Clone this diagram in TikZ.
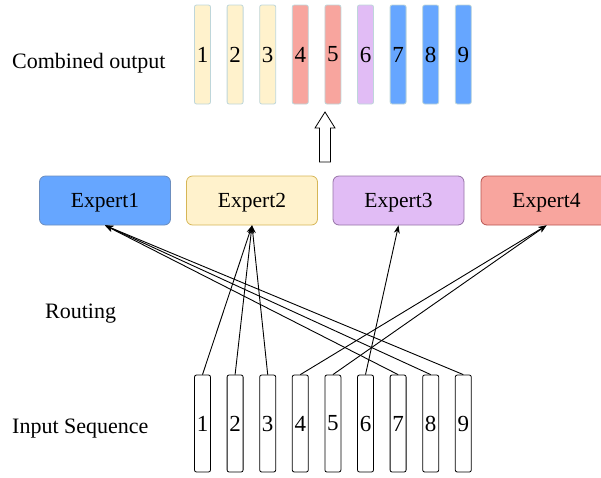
\documentclass[tikz,border=0pt]{standalone}
\usepackage{fontspec}
\setmainfont{Liberation Serif}
\usetikzlibrary{arrows.meta}

\definecolor{ExpBlue}{RGB}{102,166,255}
\definecolor{ExpBlueLine}{RGB}{108,142,191}
\definecolor{ExpYellow}{RGB}{255,242,204}
\definecolor{ExpYellowLine}{RGB}{214,182,86}
\definecolor{ExpPurple}{RGB}{225,188,245}
\definecolor{ExpPurpleLine}{RGB}{150,115,166}
\definecolor{ExpRed}{RGB}{248,165,158}
\definecolor{ExpRedLine}{RGB}{184,84,80}
\definecolor{TokLine}{RGB}{190,214,218}

\tikzset{
  tok/.style={draw, rounded corners=2pt, minimum width=16pt, inner sep=0pt,
    line width=0.8pt, font=\fontsize{23}{23}\selectfont},
  expert/.style={draw, rounded corners=6pt, minimum width=131pt,
    minimum height=49pt, line width=0.8pt, text depth=0pt,
    font=\fontsize{21.5}{21.5}\selectfont},
  lbl/.style={anchor=base west, inner sep=0pt, font=\fontsize{22}{22}\selectfont},
  route/.style={-{Stealth[length=8pt,width=6pt]}, line width=0.9pt}
}

\begin{document}
\begin{tikzpicture}[x=1pt,y=-1pt]

  \newcommand\DX{32.6}

  \useasboundingbox (0,0) rectangle (601,477);

  % row labels
  \node[lbl] (lcomb) at (12,68) {Combined output};
  \node[lbl] (lrout) at (45,318) {Routing};
  \node[lbl] (linp) at (12,433) {Input Sequence};

  % combined output
  \foreach \i/\c in {1/ExpYellow,2/ExpYellow,3/ExpYellow,4/ExpRed,5/ExpRed,
                     6/ExpPurple,7/ExpBlue,8/ExpBlue,9/ExpBlue}
    \node[tok, fill=\c, draw=TokLine, minimum height=99pt]
      (out\i) at ({202.5+(\i-1)*\DX}, 54.5) {\i};

  % hollow arrow
  \draw[line width=0.8pt, fill=white] (319.5,162) -- (319.5,128) -- (315,128)
    -- (325,112) -- (335,128) -- (330.5,128) -- (330.5,162) -- cycle;

  % experts
  \node[expert, fill=ExpBlue, draw=ExpBlueLine] (e1) at (105,200.5) {Expert1};
  \node[expert, fill=ExpYellow, draw=ExpYellowLine] (e2) at (252,200.5) {Expert2};
  \node[expert, fill=ExpPurple, draw=ExpPurpleLine] (e3) at (398.5,200.5) {Expert3};
  \node[expert, fill=ExpRed, draw=ExpRedLine] (e4) at (546.5,200.5) {Expert4};

  % input sequence
  \foreach \i in {1,...,9}
    \node[tok, fill=white, minimum height=97pt]
      (in\i) at ({202.5+(\i-1)*\DX}, 423.5) {\i};

  % routing
  \foreach \t/\e in {1/2,2/2,3/2,4/4,5/4,6/3,7/1,8/1,9/1}
    \draw[route] (in\t.north) -- (e\e.south);

\end{tikzpicture}
\end{document}
